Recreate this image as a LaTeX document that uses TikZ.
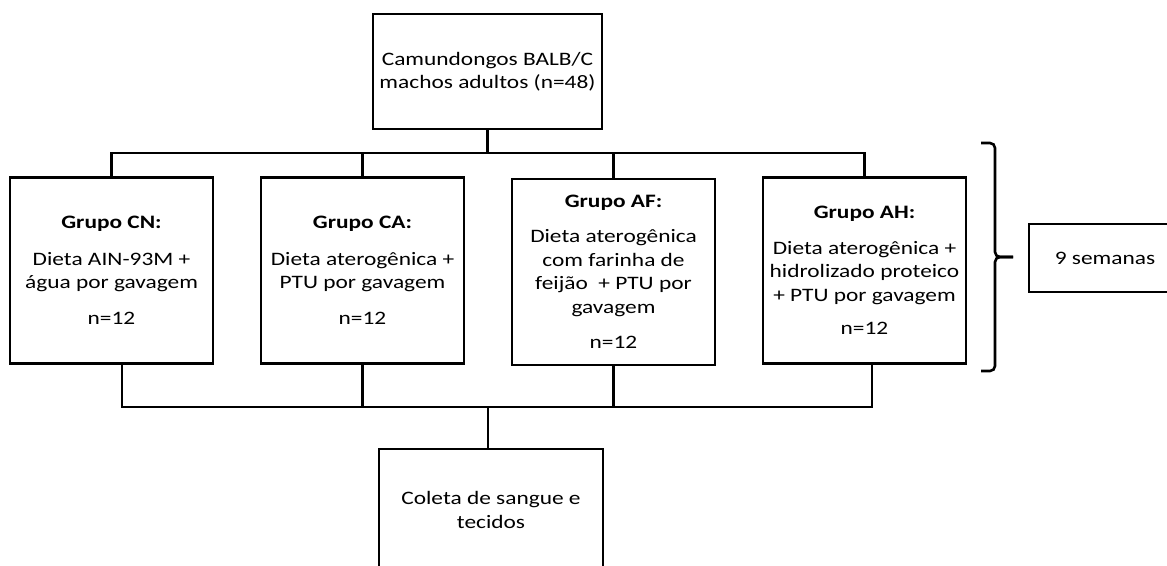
\documentclass[tikz,border=0pt]{standalone}
\usepackage{fontspec}
\setmainfont{Carlito}[FakeStretch=1.23]
\begin{document}
\begin{tikzpicture}[x=1pt,y=-1pt,
  box/.style={draw, line width=2.6pt, align=center, inner sep=0pt,
    font=\fontsize{19}{23.5}\selectfont},
  grp/.style={box, minimum width=203pt, minimum height=186pt},
  conn/.style={line width=2.6pt},
  brc/.style={line width=2.6pt, rounded corners=5pt}]
\useasboundingbox (0,0) rectangle (1167,565);

\node[box, minimum width=229pt, minimum height=115pt] (top) at (487.5,71.5)
  {Camundongos BALB/C\\machos adultos (n=48)};

\node[grp] (cn) at (111.5,270.5)
  {\textbf{Grupo CN:}\\[13pt]Dieta AIN-93M +\\água por gavagem\\[12pt]n=12};
\node[grp] (ca) at (362.5,270.5)
  {\textbf{Grupo CA:}\\[13pt]Dieta aterogênica +\\PTU por gavagem\\[12pt]n=12};
\node[grp] (af) at (613.5,272)
  {\textbf{Grupo AF:}\\[12pt]Dieta aterogênica\\com farinha de\\feijão \ + PTU por\\gavagem\\[12pt]n=12};
\node[grp] (ah) at (864.5,270.5)
  {\textbf{Grupo AH:}\\[12pt]Dieta aterogênica +\\hidrolizado proteico\\+ PTU por gavagem\\[10pt]n=12};

\node[box, minimum width=152pt, minimum height=68pt] (wk) at (1105,258) {9 semanas};

\node[box, minimum width=224pt, minimum height=122pt] (col) at (491,510)
  {Coleta de sangue e\\tecidos};

\coordinate (t) at (487.5,153);
\coordinate (b) at (488,407);

\draw[conn] (top.south) -- (t);
\draw[conn] (cn.north) -- (cn.north |- t) -- (ah.north |- t) -- (ah.north);
\draw[conn] (ca.north) -- (ca.north |- t);
\draw[conn] (af.north) -- (af.north |- t);

\draw[conn] ([xshift=10.5pt]cn.south) -- ([xshift=10.5pt]cn.south |- b)
  -- ([xshift=7.5pt]ah.south |- b) -- ([xshift=7.5pt]ah.south);
\draw[conn] (ca.south) -- (ca.south |- b);
\draw[conn] (af.south) -- (af.south |- b);
\draw[conn] (b) -- (col.north -| b);

\coordinate (bt) at (981,143);
\coordinate (bb) at (981,371);
\coordinate (tip) at (1013,257);
\draw[brc] (bt) -- (995,143) -- (995,257) -- (tip);
\draw[brc] (bb) -- (995,371) -- (995,257) -- (tip);
\end{tikzpicture}
\end{document}
